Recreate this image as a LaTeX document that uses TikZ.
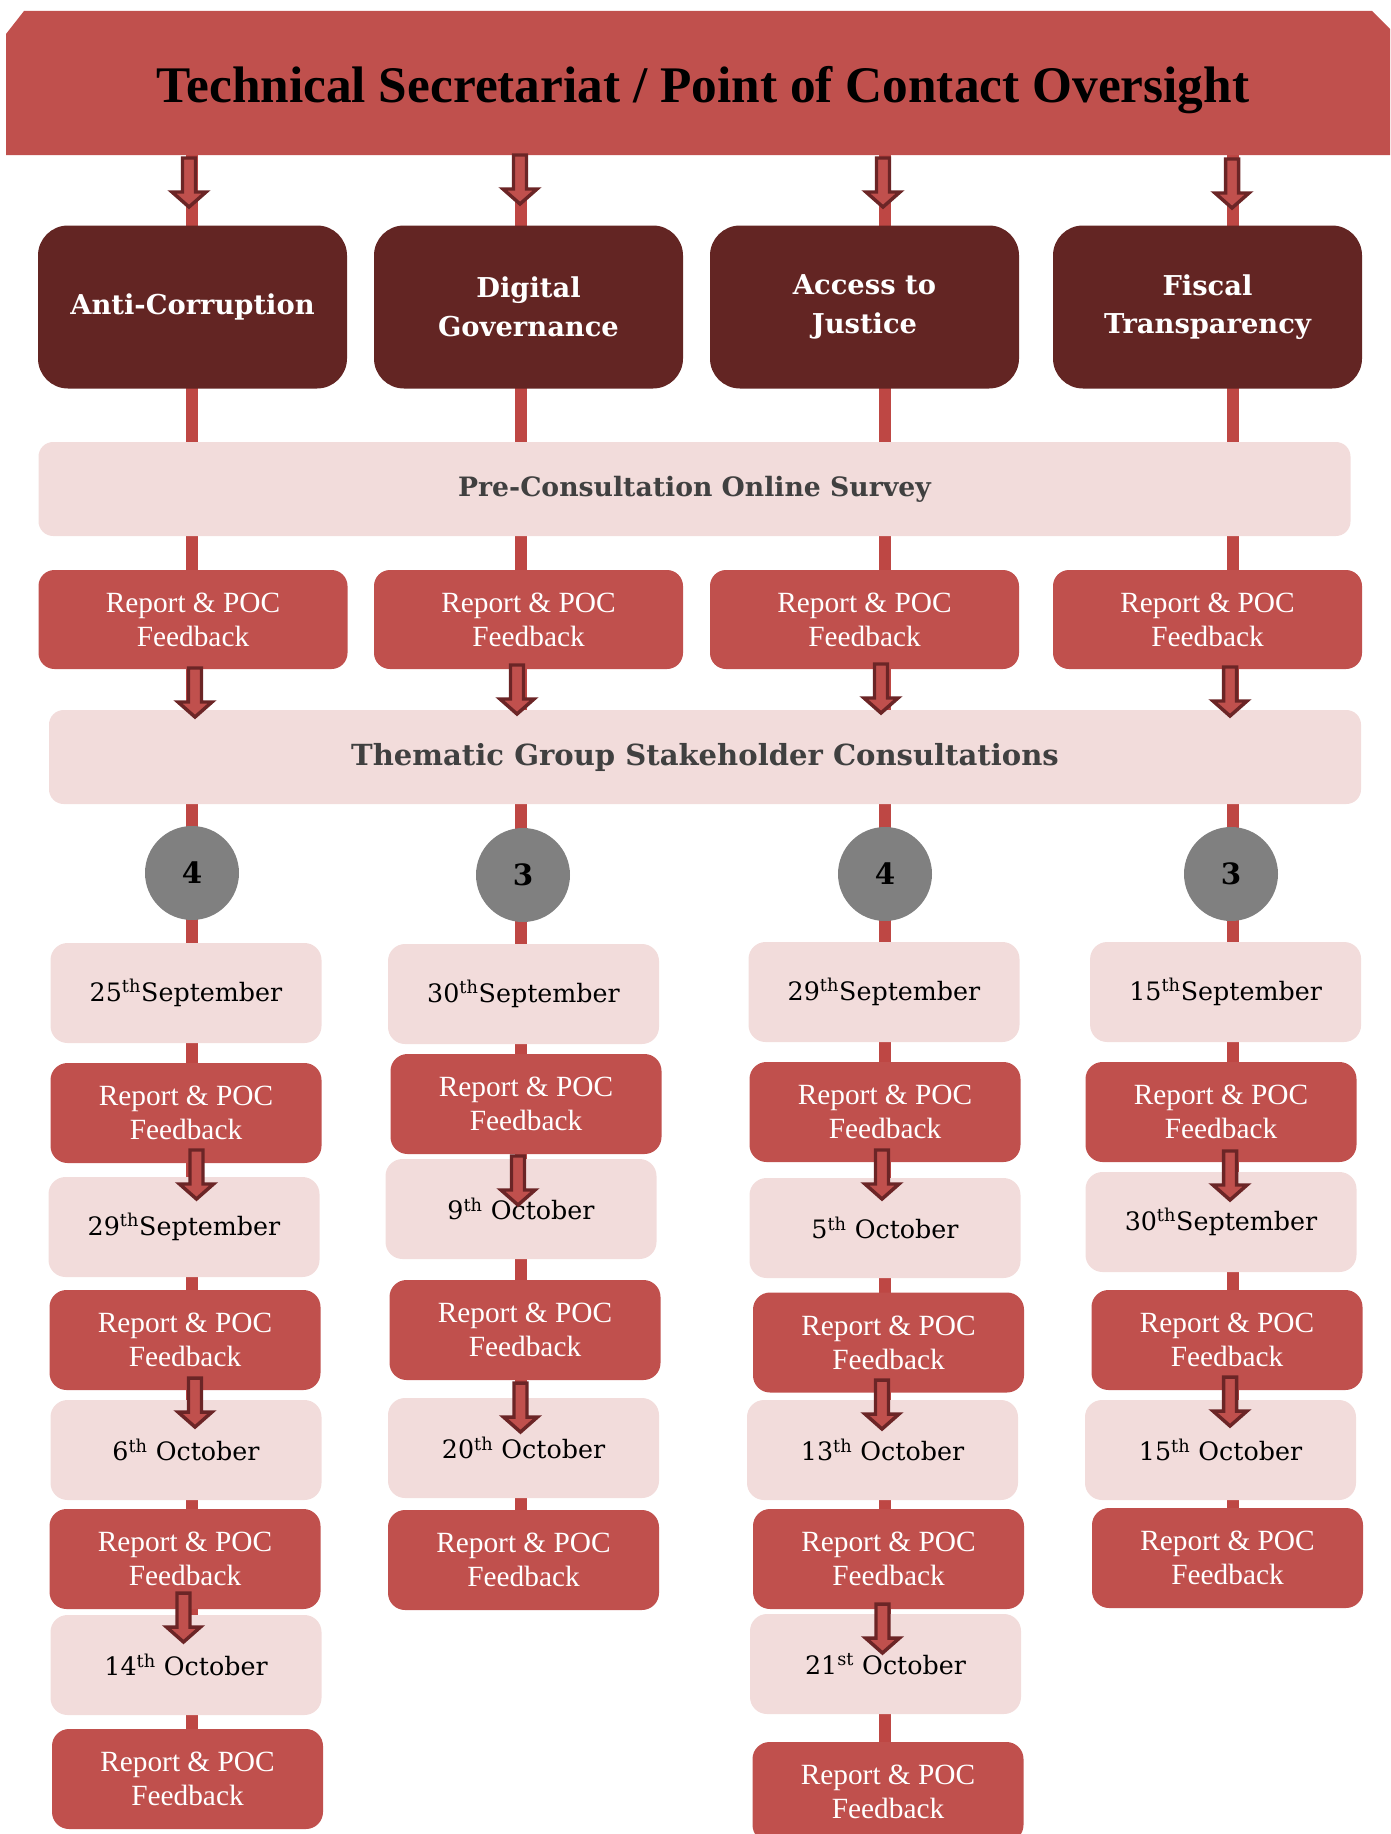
\documentclass[tikz,border=0pt]{standalone}
\usepackage{fontspec}
\setmainfont{Liberation Serif}
\newfontfamily\djs{DejaVu Serif}
\newfontfamily\lib{Liberation Serif}
\usetikzlibrary{backgrounds}
\definecolor{bannercol}{HTML}{C0504D}
\definecolor{darkcol}{HTML}{632523}
\definecolor{lightcol}{HTML}{F2DCDB}
\definecolor{conncol}{HTML}{BE4744}
\definecolor{circcol}{HTML}{808080}
\definecolor{greytext}{HTML}{404040}
\definecolor{arrowline}{HTML}{6B2526}
\tikzset{
  darkbox/.style={fill=darkcol, rounded corners=22.5pt, minimum width=231.75pt, minimum height=122.25pt, inner sep=0pt, align=center, text=white, font=\djs\bfseries\fontsize{20.5}{29}\selectfont},
  widebox/.style={fill=lightcol, rounded corners=11pt, minimum width=984pt, minimum height=70.5pt, inner sep=0pt, text=greytext, font=\djs\bfseries\fontsize{20}{24}\selectfont},
  toprep/.style={fill=bannercol, rounded corners=12pt, minimum width=231.75pt, minimum height=74.25pt, inner sep=0pt, align=center, text=white, font=\lib\fontsize{22}{25.5}\selectfont},
  repbox/.style={toprep, rounded corners=12.75pt, minimum width=203.25pt, minimum height=75pt},
  datebox/.style={fill=lightcol, rounded corners=12.75pt, minimum width=203.25pt, minimum height=75pt, inner sep=0pt, text=black, font=\djs\fontsize{19}{23}\selectfont},
  numcirc/.style={circle, fill=circcol, minimum size=70.5pt, inner sep=0pt, text=black, font=\djs\bfseries\fontsize{22}{26}\selectfont},
  conn/.style={draw=conncol, line width=9pt},
  barrow/.pic={\draw[draw=arrowline, fill=bannercol, line width=2.6pt, miter limit=10]
     (-6.5,2)--(6.5,2)--(6.5,36)--(17,36)--(0,51)--(-17,36)--(-6.5,36)--cycle;}
}
\newcommand{\sth}{\textsuperscript{th}}
\begin{document}
\begin{tikzpicture}[x=0.75pt,y=-0.75pt]
\useasboundingbox (0,0) rectangle (1390,1834);
\clip (0,0) rectangle (1390,1834);
% banner
\fill[bannercol] (6,34) -- (24,11) -- (1372,11) -- (1395,34) -- (1395,155) -- (6,155) -- cycle;
\node[minimum width=1041pt, minimum height=108pt, inner sep=0pt] (banner) at (700.5,83) {};
\node[inner sep=0pt, font=\lib\bfseries\fontsize{38.5}{42}\selectfont] (title) at (703,90) {Technical Secretariat / Point of Contact Oversight};
% column x coordinates
\coordinate (x1) at (192,0);
\coordinate (x2) at (521,0);
\coordinate (x3) at (885,0);
\coordinate (x4) at (1233,0);
% theme boxes
\node[darkbox] (t1) at (192.5,307) {Anti-Corruption};
\node[darkbox] (t2) at (528.5,307) {Digital\\Governance};
\node[darkbox] (t3) at (864.5,307) {Access to\\Justice};
\node[darkbox] (t4) at (1207.5,307) {Fiscal\\Transparency};
\node[widebox] (pre) at (694.5,489) {Pre-Consultation Online Survey};
\node[toprep] (p1) at (193,619.5) {Report \& POC\\Feedback};
\node[toprep] (p2) at (528.5,619.5) {Report \& POC\\Feedback};
\node[toprep] (p3) at (864.5,619.5) {Report \& POC\\Feedback};
\node[toprep] (p4) at (1207.5,619.5) {Report \& POC\\Feedback};
\node[widebox, font=\djs\bfseries\fontsize{21.8}{24}\selectfont] (them) at (705,757) {Thematic Group Stakeholder Consultations};
\node[numcirc] (n1) at (192,873) {4};
\node[numcirc] (n2) at (523,875) {3};
\node[numcirc] (n3) at (885,874) {4};
\node[numcirc] (n4) at (1231,874) {3};
% column 1
\node[datebox] (a1) at (186,993) {25\sth September};
\node[repbox] (ar1) at (186,1113) {Report \& POC\\Feedback};
\node[datebox] (a2) at (184,1227) {29\sth September};
\node[repbox] (ar2) at (185,1340) {Report \& POC\\Feedback};
\node[datebox] (a3) at (186,1450) {6\sth{} October};
\node[repbox] (ar3) at (185,1559) {Report \& POC\\Feedback};
\node[datebox] (a4) at (186,1665) {14\sth{} October};
\node[repbox] (ar4) at (187.5,1779) {Report \& POC\\Feedback};
% column 2
\node[datebox] (b1) at (523.5,994) {30\sth September};
\node[repbox] (br1) at (526,1104) {Report \& POC\\Feedback};
\node[datebox] (b2) at (521,1209) {9\sth{} October};
\node[repbox] (br2) at (525,1330) {Report \& POC\\Feedback};
\node[datebox] (b3) at (523.5,1448) {20\sth{} October};
\node[repbox] (br3) at (523.5,1560) {Report \& POC\\Feedback};
% column 3
\node[datebox] (c1) at (884,992) {29\sth September};
\node[repbox] (cr1) at (885,1112) {Report \& POC\\Feedback};
\node[datebox] (c2) at (885,1228) {5\sth{} October};
\node[repbox] (cr2) at (888.5,1342.5) {Report \& POC\\Feedback};
\node[datebox] (c3) at (882.5,1450) {13\sth{} October};
\node[repbox] (cr3) at (888.5,1559) {Report \& POC\\Feedback};
\node[datebox] (c4) at (885.5,1664) {21\textsuperscript{st} October};
\node[repbox] (cr4) at (888,1792) {Report \& POC\\Feedback};
% column 4
\node[datebox] (d1) at (1225.6,992) {15\sth September};
\node[repbox] (dr1) at (1221,1112) {Report \& POC\\Feedback};
\node[datebox] (d2) at (1221,1222) {30\sth September};
\node[repbox] (dr2) at (1227,1340) {Report \& POC\\Feedback};
\node[datebox] (d3) at (1220.5,1450) {15\sth{} October};
\node[repbox] (dr3) at (1227.5,1558) {Report \& POC\\Feedback};
% connectors behind the boxes
\begin{pgfonlayer}{background}
\draw[conn] (banner.south -| x1) -- (ar4.north -| x1);
\draw[conn] (banner.south -| x2) -- (br3.north -| x2);
\draw[conn] (banner.south -| x3) -- (cr4.north -| x3);
\draw[conn] (banner.south -| x4) -- (dr3.north -| x4);
\end{pgfonlayer}
% block arrows
\foreach \ax/\ay in {189/156, 520/153, 883/156, 1232/157,
  195/666, 517/663, 881/662, 1230/665,
  196.5/1148, 195/1376, 183.5/1591,
  518/1154, 520.5/1381,
  882/1148, 882/1378, 882.5/1602,
  1230/1149, 1230/1375}
  \pic at (\ax,\ay) {barrow};
\end{tikzpicture}
\end{document}
